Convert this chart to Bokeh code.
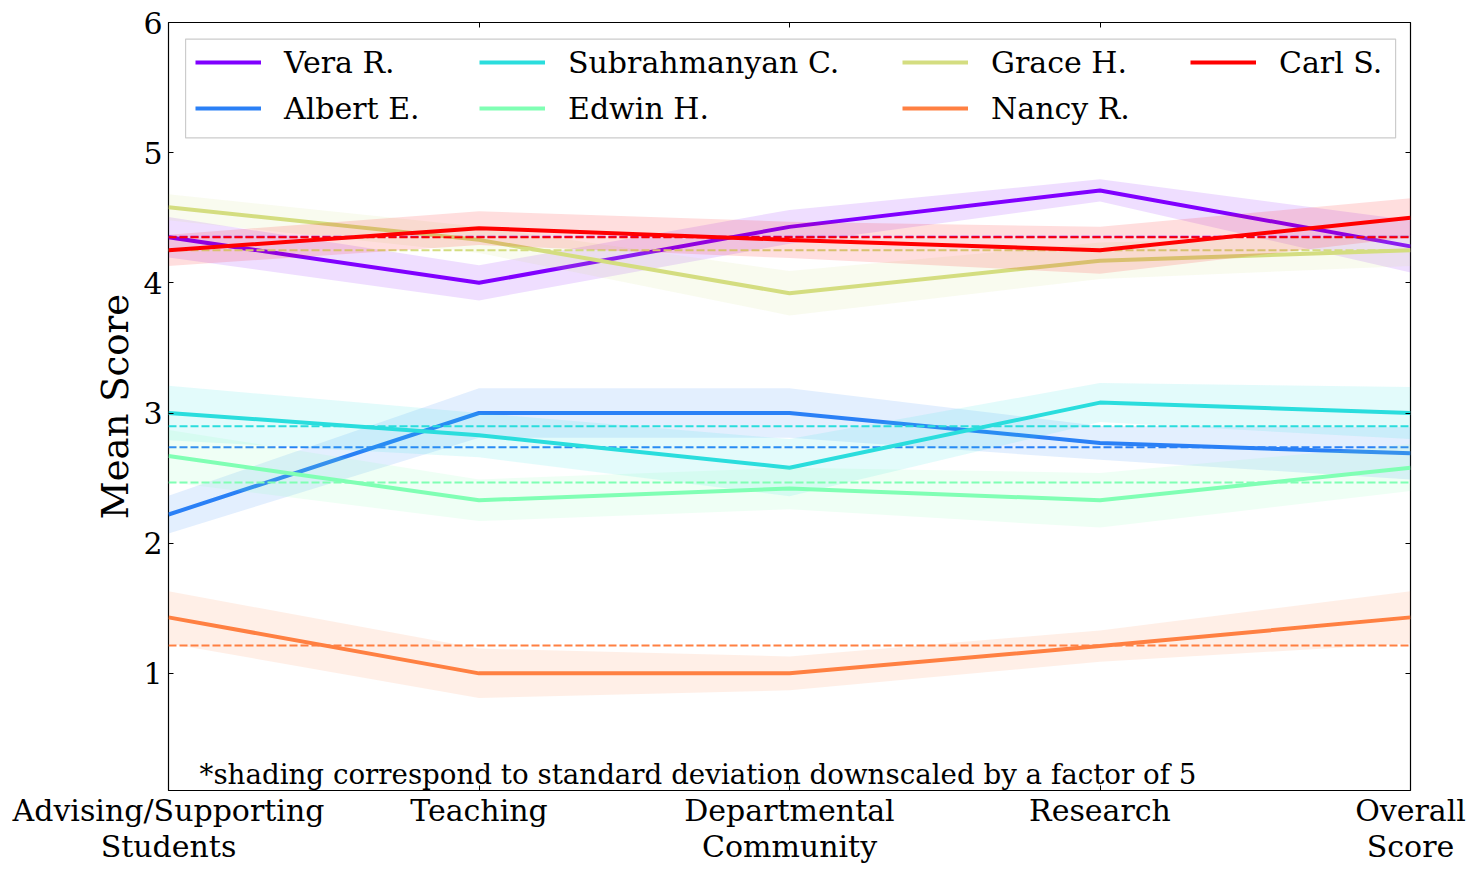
import numpy as np
from bokeh.plotting import figure
from bokeh.models import Range1d, FixedTicker, LinearAxis, Legend, LegendItem, Label, BoxAnnotation
from bokeh.embed import file_html
from bokeh.resources import INLINE

# ---------------- data ----------------
categories = ["Advising/Supporting\nStudents", "Teaching", "Departmental\nCommunity",
              "Research", "Overall\nScore"]
x_pos = [0, 1, 2, 3, 4]

names = ["Vera R.", "Albert E.", "Subrahmanyan C.", "Edwin H.", "Grace H.", "Nancy R.", "Carl S."]
colors = ["#8000ff", "#2a80f6", "#2adddd", "#80ffb4", "#d4dd80", "#ff8042", "#ff0000"]

vera = [4.35, 4.00, 4.43, 4.71, 4.28]
albert = [2.22, 3.00, 3.00, 2.77, 2.69]
subra = [3.00, 2.83, 2.58, 3.08, 3.00]
edwin = [2.67, 2.33, 2.42, 2.33, 2.58]
grace = [4.58, 4.33, 3.92, 4.17, 4.25]
nancy = [1.43, 1.00, 1.00, 1.21, 1.43]
carl = [4.25, 4.42, 4.33, 4.25, 4.50]

# standard deviation / 5 (shading half-width)
vera_sd = [0.155, 0.135, 0.13, 0.085, 0.20]
albert_sd = [0.145, 0.19, 0.19, 0.13, 0.20]
subra_sd = [0.21, 0.17, 0.22, 0.15, 0.20]
edwin_sd = [0.20, 0.16, 0.16, 0.21, 0.18]
grace_sd = [0.10, 0.10, 0.17, 0.14, 0.12]
nancy_sd = [0.20, 0.19, 0.13, 0.12, 0.20]
carl_sd = [0.12, 0.13, 0.14, 0.18, 0.15]

series = [vera, albert, subra, edwin, grace, nancy, carl]
spreads = [vera_sd, albert_sd, subra_sd, edwin_sd, grace_sd, nancy_sd, carl_sd]

y_ticks = [1, 2, 3, 4, 5, 6]
note = "*shading correspond to standard deviation downscaled by a factor of 5"

FONT = "DejaVu Serif"

# ---------------- figure ----------------
W, H = 1472, 870
FL, FT, FR, FB = 168, 22, 1410, 790
p = figure(width=W, height=H, output_backend="svg", toolbar_location=None,
           x_range=Range1d(0, 4), y_range=Range1d(0.1, 6),
           min_border_left=FL, min_border_right=W - FR, min_border_top=FT,
           min_border_bottom=H - FB)
p.xgrid.visible = False
p.ygrid.visible = False
p.outline_line_color = "black"
p.outline_line_width = 1.2
p.outline_line_alpha = 1.0
p.background_fill_color = "white"
p.border_fill_color = "white"

renderers = []
for name, col, vals, sd in zip(names, colors, series, spreads):
    lower = [v - s for v, s in zip(vals, sd)]
    upper = [v + s for v, s in zip(vals, sd)]
    p.varea(x=x_pos, y1=lower, y2=upper, fill_color=col, fill_alpha=0.13)
    r = p.line(x_pos, vals, line_color=col, line_width=4)
    m = float(np.mean(vals))
    p.line(x_pos, [m] * len(x_pos), line_color=col, line_width=2, line_dash="8 3")
    renderers.append(r)

# axes
xa = p.xaxis[0]
xa.ticker = FixedTicker(ticks=x_pos)
xa.major_label_overrides = {i: c for i, c in zip(x_pos, categories)}
xa.major_label_text_line_height = 1.03
xa.major_label_standoff = 2
ya = p.yaxis[0]
ya.ticker = FixedTicker(ticks=y_ticks)
ya.axis_label = "Mean Score"
ya.axis_label_text_font = FONT
ya.axis_label_text_font_size = "37px"
ya.axis_label_text_font_style = "normal"
ya.axis_label_text_color = "black"
ya.axis_label_standoff = 3
ya.major_label_standoff = 6

for ax in (xa, ya):
    ax.major_label_text_font = FONT
    ax.major_label_text_font_size = "30px"
    ax.major_label_text_color = "black"
    ax.major_tick_in = 5
    ax.major_tick_out = 0
    ax.minor_tick_in = 0
    ax.minor_tick_out = 0
    ax.axis_line_color = None
    ax.major_tick_line_color = "black"

top = LinearAxis(ticker=FixedTicker(ticks=x_pos),
                 major_label_overrides={t: "" for t in x_pos},
                 major_tick_in=5, major_tick_out=0, minor_tick_in=0, minor_tick_out=0,
                 axis_line_color=None, major_label_standoff=0)
right = LinearAxis(ticker=FixedTicker(ticks=y_ticks),
                   major_label_overrides={t: "" for t in y_ticks},
                   major_tick_in=5, major_tick_out=0, minor_tick_in=0, minor_tick_out=0,
                   axis_line_color=None, major_label_standoff=0)
p.add_layout(top, "above")
p.add_layout(right, "right")

# note
p.add_layout(Label(x=0.1, y=0.1, text=note, text_font=FONT, text_font_size="27.7px",
                   text_baseline="bottom", text_color="black"))

# legend frame
p.add_layout(BoxAnnotation(left=0.055, right=3.952, top=5.873, bottom=5.113,
                           fill_color="white", fill_alpha=0.85,
                           line_color="#cccccc", line_width=1.2, line_alpha=1.0))

# legends, one per column
frame_h = FB - FT
pad, row_h, spacing = 8, 38, 8
top_off = 13
groups = [[0, 1], [2, 3], [4, 5], [6]]
x_offsets = [19, 303, 726, 1014]
for grp, vx in zip(groups, x_offsets):
    items = [LegendItem(label=names[i], renderers=[renderers[i]]) for i in grp]
    h = 2 * pad + len(grp) * row_h + (len(grp) - 1) * spacing
    leg = Legend(items=items, location=(vx, frame_h - top_off - h), orientation="vertical",
                 background_fill_alpha=0, border_line_alpha=0, padding=pad, spacing=spacing,
                 label_height=row_h, glyph_height=row_h, glyph_width=66, label_standoff=23,
                 label_text_font=FONT, label_text_font_size="30px", label_text_color="black",
                 margin=0)
    p.add_layout(leg)

open("out.html", "w").write(file_html(p, INLINE))
